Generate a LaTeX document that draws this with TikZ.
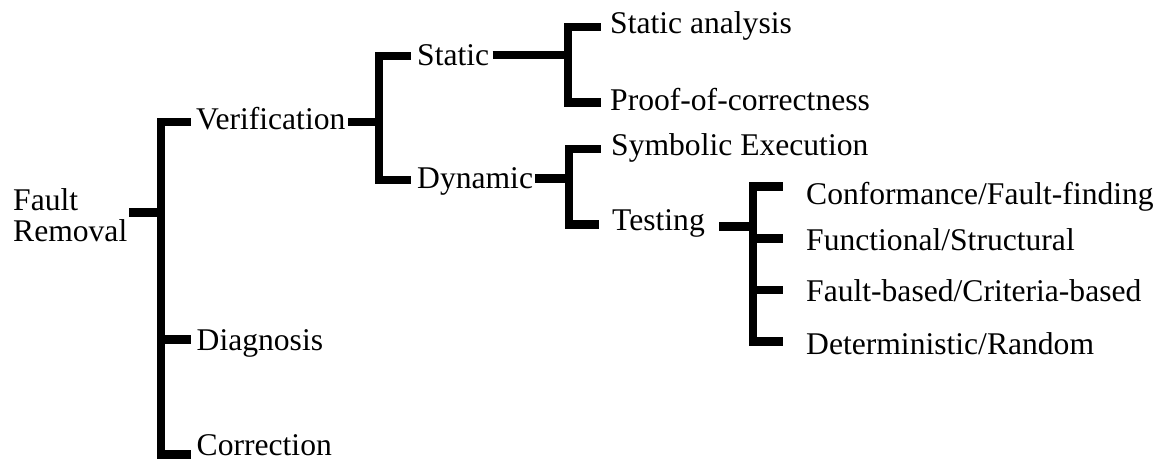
\documentclass[tikz,border=0pt]{standalone}
\usepackage{fontspec}
\setmainfont{Liberation Serif}
\newcommand\lblfont{\fontsize{31.6}{31.7}\selectfont}
\begin{document}
\begin{tikzpicture}[x=1pt,y=-1pt,
  bar/.style={line width=8.5pt, line join=miter, line cap=butt},
  lbl/.style={anchor=base west, inner sep=0pt, font=\lblfont}]
\useasboundingbox (0,0) rectangle (1160,461);

% labels
\node[lbl, align=left] (fr) at (13,241.7) {Fault\\Removal};
\node[lbl] (ver) at (196,129.5) {Verification};
\node[lbl] (dia) at (196.5,350) {Diagnosis};
\node[lbl] (cor) at (196.5,455.5) {Correction};
\node[lbl] (sta) at (417,65) {Static};
\node[lbl] (dyn) at (417,188) {Dynamic};
\node[lbl] (san) at (610,33) {Static analysis};
\node[lbl] (poc) at (610,110) {Proof-of-correctness};
\node[lbl] (sym) at (611,155) {Symbolic Execution};
\node[lbl] (tes) at (612,230) {Testing};
\node[lbl] (cff) at (806,204) {Conformance/Fault-finding};
\node[lbl] (fst) at (806,250.7) {Functional/Structural};
\node[lbl] (fcb) at (806,301.7) {Fault-based/Criteria-based};
\node[lbl] (dra) at (806,354.3) {Deterministic/Random};

% bracket ends
\coordinate (frO) at (129.3,212.5);
\coordinate (verI) at (190.7,122);
\coordinate (diaI) at (190.7,339.5);
\coordinate (corI) at (190.7,454.5);
\coordinate (verO) at (348,122);
\coordinate (staI) at (411,56);
\coordinate (dynI) at (411,180);
\coordinate (staO) at (492.7,55);
\coordinate (sanI) at (600.7,27);
\coordinate (pocI) at (600.7,102.5);
\coordinate (dynO) at (535,178.5);
\coordinate (symI) at (600.5,149);
\coordinate (tesI) at (599,224.5);
\coordinate (tesO) at (719.3,226.5);
\coordinate (cffI) at (782.7,186.7);
\coordinate (fstI) at (782.7,238.5);
\coordinate (fcbI) at (782.7,290);
\coordinate (draI) at (782.7,341.7);

% Fault Removal
\draw[bar] (verI) -- (161,122) -- (161,454.5) -- (corI);
\draw[bar] (frO) -- (161,212.5);
\draw[bar] (161,339.5) -- (diaI);

% Verification
\draw[bar] (staI) -- (379,56) -- (379,180) -- (dynI);
\draw[bar] (verO) -- (379,122);

% Static
\draw[bar] (sanI) -- (568,27) -- (568,102.5) -- (pocI);
\draw[bar] (staO) -- (568,55);

% Dynamic
\draw[bar] (symI) -- (569,149) -- (569,224.5) -- (tesI);
\draw[bar] (dynO) -- (569,178.5);

% Testing
\draw[bar] (cffI) -- (753,186.7) -- (753,341.7) -- (draI);
\draw[bar] (tesO) -- (753,226.5);
\draw[bar] (753,238.5) -- (fstI);
\draw[bar] (753,290) -- (fcbI);
\end{tikzpicture}
\end{document}
